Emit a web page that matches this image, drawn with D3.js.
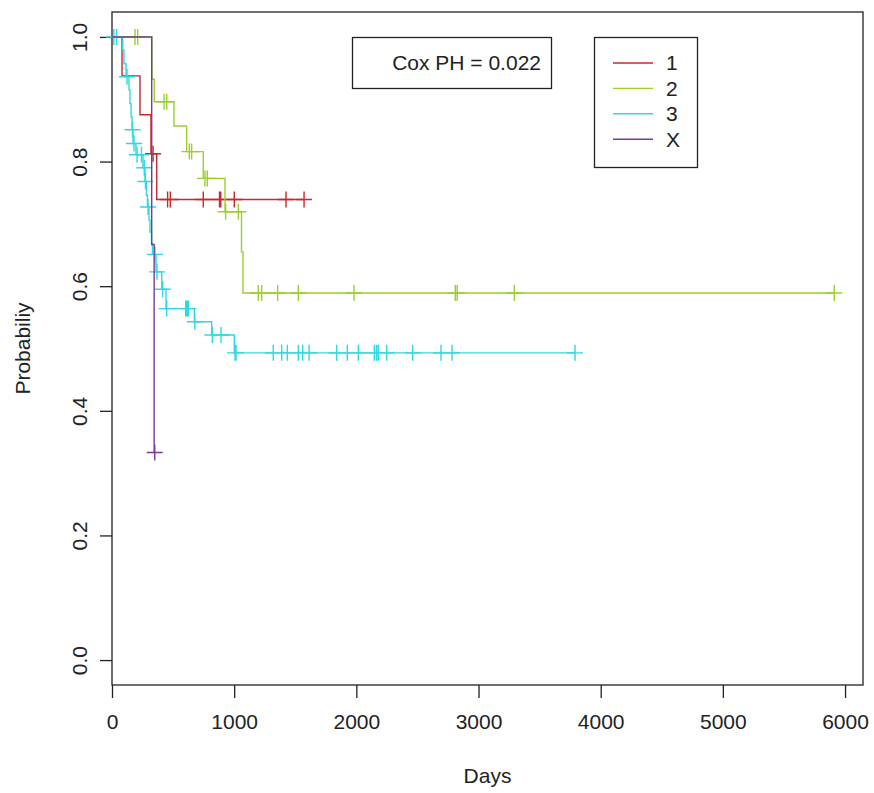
<!DOCTYPE html>
<html>
<head>
<meta charset="utf-8">
<script src="https://cdn.jsdelivr.net/npm/d3@7"></script>
<style>
  html, body { margin: 0; padding: 0; background: #fff; }
  text { font-family: "Liberation Sans", Arial, sans-serif; fill: #222; }
</style>
</head>
<body>
<svg id="chart" width="874" height="793"></svg>
<script>
// Kaplan-Meier survival curves by group, with censored observations marked "+"
const groupNames = ["1", "2", "3", "X"];
const groupColors = ["#c8282e", "#9bd02c", "#30d8e4", "#7a3a96"];

// [day, survival after the drop]
const drops1 = [[82, 0.9375], [229, 0.875], [319, 0.8125], [366, 0.739]];
const censor1 = [336, 455, 477, 747, 880, 890, 1001, 1424, 1572];

const drops2 = [[327, 0.932], [346, 0.896], [507, 0.857], [611, 0.816], [747, 0.773],
                [925, 0.7195], [1060, 0.655], [1072, 0.589]];
const censor2 = [188, 210, 426, 448, 633, 652, 761, 780, 930, 1034, 1197, 1225, 1356,
                 1525, 1981, 2810, 2825, 3293, 5912];

const drops3 = [[88, 0.979], [98, 0.957], [115, 0.936], [139, 0.915], [147, 0.893],
                [156, 0.872], [164, 0.851], [172, 0.829], [196, 0.811], [254, 0.790],
                [270, 0.768], [282, 0.746], [290, 0.727], [303, 0.706], [311, 0.687],
                [323, 0.669], [331, 0.651], [360, 0.623], [407, 0.595], [442, 0.564],
                [674, 0.543], [816, 0.5216], [1001, 0.493]];
const censor3 = [15, 38, 123, 168, 180, 205, 241, 264, 274, 295, 352, 368, 415, 448,
                 603, 614, 625, 678, 821, 892, 1007, 1015, 1320, 1389, 1435, 1525, 1561,
                 1613, 1839, 1926, 2016, 2147, 2166, 2180, 2248, 2461, 2693, 2783, 3790];

const drops4 = [[325, 0.667], [345, 0.333]];
const censor4 = [350];

const xTicks = [0, 1000, 2000, 3000, 4000, 5000, 6000];
const yTicks = [0, 0.2, 0.4, 0.6, 0.8, 1.0];
const coxLabel = "Cox PH = 0.022";

const groups = [
  { name: groupNames[0], color: groupColors[0], drops: drops1, censor: censor1 },
  { name: groupNames[1], color: groupColors[1], drops: drops2, censor: censor2 },
  { name: groupNames[2], color: groupColors[2], drops: drops3, censor: censor3 },
  { name: groupNames[3], color: groupColors[3], drops: drops4, censor: censor4 }
];

const box = { left: 112, right: 863, top: 12, bottom: 685 };

const x = d3.scaleLinear().domain([0, 6147]).range([box.left, box.right]);
const y = d3.scaleLinear().domain([-0.04, 1.04]).range([box.bottom, box.top]);

const svg = d3.select("#chart");
svg.append("rect").attr("width", 874).attr("height", 793).attr("fill", "#fff");

// axes
const xAxis = svg.append("g").attr("transform", `translate(0,${box.bottom})`)
  .call(d3.axisBottom(x).tickValues(xTicks).tickFormat(d3.format("d"))
    .tickSize(13).tickSizeOuter(0).tickPadding(16));
xAxis.select(".domain").remove();
xAxis.selectAll("line").attr("stroke", "#222").attr("stroke-width", 1.3);
xAxis.selectAll("text").attr("font-size", 21).attr("dy", "0.71em").attr("fill", "#222");

const yAxis = svg.append("g").attr("transform", `translate(${box.left},0)`)
  .call(d3.axisLeft(y).tickValues(yTicks).tickFormat(d3.format(".1f")).tickSize(12).tickSizeOuter(0));
yAxis.select(".domain").remove();
yAxis.selectAll("line").attr("stroke", "#222").attr("stroke-width", 1.3);
yAxis.selectAll("text")
  .attr("font-size", 21).attr("fill", "#222")
  .attr("x", null)
  .attr("text-anchor", "middle")
  .attr("transform", "translate(-32,0) rotate(-90)")
  .attr("dy", "0.35em");

// plot frame
svg.append("rect")
  .attr("x", box.left).attr("y", box.top)
  .attr("width", box.right - box.left).attr("height", box.bottom - box.top)
  .attr("fill", "none").attr("stroke", "#222").attr("stroke-width", 1.3);

// axis titles
svg.append("text").attr("x", (box.left + box.right) / 2).attr("y", 783)
  .attr("text-anchor", "middle").attr("font-size", 21).text("Days");
svg.append("text")
  .attr("transform", `translate(30,${(box.top + box.bottom) / 2}) rotate(-90)`)
  .attr("text-anchor", "middle").attr("font-size", 21).text("Probabiliy");

// survival value of a step curve at day t
function survAt(drops, t) {
  let s = 1;
  for (const d of drops) if (d[0] <= t) s = d[1];
  return s;
}

const stepLine = d3.line().x(d => x(d[0])).y(d => y(d[1])).curve(d3.curveStepAfter);
const plot = svg.append("g");
const arm = 8;

groups.forEach(g => {
  const tEnd = Math.max(d3.max(g.censor), d3.max(g.drops, d => d[0]));
  const pts = [[0, 1], ...g.drops, [tEnd, g.drops[g.drops.length - 1][1]]];
  plot.append("path").attr("d", stepLine(pts))
    .attr("fill", "none").attr("stroke", g.color).attr("stroke-width", 1.4);
  plot.append("path")
    .attr("d", g.censor.map(t => {
      const cx = x(t), cy = y(survAt(g.drops, t));
      return `M${cx - arm},${cy}H${cx + arm}M${cx},${cy - arm}V${cy + arm}`;
    }).join(""))
    .attr("fill", "none").attr("stroke", g.color).attr("stroke-width", 1.4);
});

// Cox PH annotation box
svg.append("rect").attr("x", 352.5).attr("y", 37.5).attr("width", 199).attr("height", 51)
  .attr("fill", "#fff").attr("stroke", "#222").attr("stroke-width", 1.3);
svg.append("text").attr("x", 541).attr("y", 63).attr("dy", "0.35em")
  .attr("text-anchor", "end").attr("font-size", 21).text(coxLabel);

// legend
const lg = svg.append("g");
lg.append("rect").attr("x", 594.5).attr("y", 37.5).attr("width", 103).attr("height", 130)
  .attr("fill", "#fff").attr("stroke", "#222").attr("stroke-width", 1.3);
groups.forEach((g, i) => {
  const ly = 63 + i * 25.4;
  lg.append("line").attr("x1", 613).attr("x2", 653).attr("y1", ly).attr("y2", ly)
    .attr("stroke", g.color).attr("stroke-width", 1.4);
  lg.append("text").attr("x", 666).attr("y", ly).attr("dy", "0.35em")
    .attr("font-size", 21).text(g.name);
});
</script>
</body>
</html>
